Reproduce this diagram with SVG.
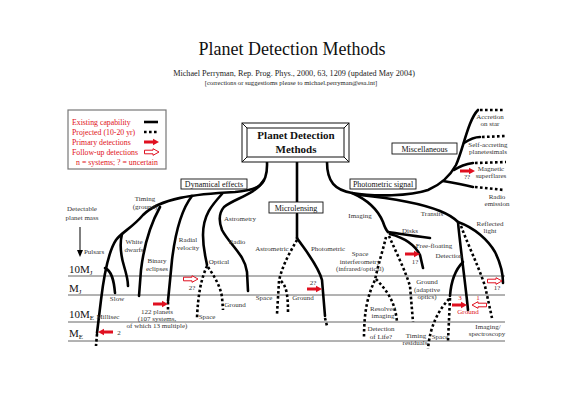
<svg xmlns="http://www.w3.org/2000/svg" xmlns:xlink="http://www.w3.org/1999/xlink" width="576" height="407" viewBox="0 0 576 407">
<style>
text{font-family:"Liberation Serif","Times New Roman",serif}
.l{font-size:7px;fill:#333;text-anchor:middle}
.r{font-size:7px;fill:#e01020;text-anchor:middle}
.lg{font-size:7.8px;fill:#e01020}
.b{font-size:8px;fill:#111;text-anchor:middle}
.m{font-size:11px;fill:#111}
.s{fill:none;stroke:#000;stroke-width:2.6;stroke-linecap:round}
.d{fill:none;stroke:#000;stroke-width:2.6;stroke-dasharray:2.6 2.4}
.h{stroke:#666;stroke-width:1}
.bx{fill:#fff;stroke:#111;stroke-width:0.9}
</style>
<defs>
<path id="ra" d="M0,-1.6 H9 V-3.2 L15,0 L9,3.2 V1.6 H0 Z" fill="#e01020"/>
<path id="ha" d="M0.5,-1.8 H9 V-3.3 L15,0 L9,3.3 V1.8 H0.5 Z" fill="#fff" stroke="#e01020" stroke-width="1"/>
</defs>
<rect width="576" height="407" fill="#fff"/>

<g id="title">
<text x="292" y="55" font-size="18" text-anchor="middle" fill="#111">Planet Detection Methods</text>
<text x="294" y="75.5" font-size="8.2" text-anchor="middle" fill="#222">Michael Perryman, Rep. Prog. Phys., 2000, 63, 1209 (updated May 2004)</text>
<text x="291" y="85" font-size="6.6" text-anchor="middle" fill="#222">[corrections or suggestioms please to michael.perryman@esa.int]</text>
</g>

<g id="legend">
<rect x="68" y="110" width="98" height="59" fill="#fff" stroke="#777" stroke-width="1.2"/>
<text class="lg" x="72" y="124.5">Existing capability</text>
<text class="lg" x="72" y="134.5">Projected (10-20 yr)</text>
<text class="lg" x="72" y="144.5">Primary detections</text>
<text class="lg" x="72" y="154.5">Follow-up detections</text>
<text class="lg" x="117" y="164.5" text-anchor="middle">n = systems; ? = uncertain</text>
<line x1="144" y1="122" x2="158" y2="122" stroke="#000" stroke-width="2.6"/>
<line x1="144" y1="132" x2="159" y2="132" class="d"/>
<use href="#ra" x="144" y="142"/>
<use href="#ha" x="144" y="152"/>
</g>

<g id="mass-axis">
<text class="l" x="82" y="211">Detectable</text>
<text class="l" x="82" y="219.5">planet mass</text>
<line x1="80" y1="227" x2="80" y2="252" stroke="#000" stroke-width="1"/>
<path d="M77,250 L80,257 L83,250 Z" fill="#000"/>
<line class="h" x1="68" y1="276" x2="505" y2="276"/>
<line class="h" x1="68" y1="295" x2="505" y2="295"/>
<line class="h" x1="68" y1="322" x2="505" y2="322"/>
<line class="h" x1="68" y1="341" x2="505" y2="341"/>
<text class="m" x="69" y="273">10M<tspan font-size="7" dy="2">J</tspan></text>
<text class="m" x="69" y="292">M<tspan font-size="7" dy="2">J</tspan></text>
<text class="m" x="69" y="318">10M<tspan font-size="7" dy="2">E</tspan></text>
<text class="m" x="69" y="337">M<tspan font-size="7" dy="2">E</tspan></text>
</g>

<g id="connectors">
<!-- dynamical -->
<path class="s" d="M267,162 C268,186 258,190 235,192 C195,194 160,198 143,215 C132,228 122,232 116,240 C108,252 104,275 101,300 L97,333"/>
<path class="d" d="M97,334 L96,346"/>
<path class="s" d="M122,234 C119,246 121,256 124,266 C127,276 128,282 128,286"/>
<path class="s" d="M105,268 C112,271 114,281 115,293"/>
<path class="s" d="M160,207 C150,225 144,245 141,270 L139,296"/>
<path class="s" d="M192,196 C181,210 175,235 172,260 L168,301"/>
<path class="d" d="M168,302 L168,310"/>
<path class="s" d="M264,180 C255,195 235,198 224,207 C218,214 219,222 222,230 C230,245 245,255 247,272 L248,291"/>
<path class="s" d="M222,194 C212,205 203,215 203,235 C203,250 206,258 207,265"/>
<path class="d" d="M207,266 C201,279 198,295 197,318"/>
<path class="d" d="M208,267 C214,276 220,285 222,297 L223,310"/>
<!-- microlensing -->
<path class="s" d="M297,162 L297,202"/>
<path class="s" d="M297,214 L297,238"/>
<path class="d" d="M297,240 C290,252 282,266 279,281 L277,314"/>
<path class="d" d="M281,281 C286,286 288,293 288,313"/>
<path class="s" d="M297,238 C305,250 318,265 322,280 L325,316"/>
<path class="d" d="M325,318 L327,326"/>
<!-- photometric + misc -->
<path class="s" d="M327,162 C327,182 335,190 352,193 C375,197 410,196 428,190 C442,184 450,176 456,165 C463,150 468,120 478,110"/>
<path class="d" d="M480,110 L504,110"/>
<path class="s" d="M464,143 C470,139 475,137 480,137"/>
<path class="d" d="M482,137 L506,136"/>
<path class="s" d="M454,170 C460,166 466,164 473,163"/>
<path class="d" d="M475,163 L506,162"/>
<path class="s" d="M443,181 C455,183 465,185 473,187"/>
<path class="d" d="M475,187 L504,190"/>
<!-- imaging -->
<path class="s" d="M352,193 C368,200 378,210 383,222 C385,228 386,230 388,232"/>
<path class="s" d="M388,232 C400,234 415,236 430,238"/>
<path class="s" d="M390,234 C405,238 415,245 420,255 L423,268"/>
<path class="d" d="M389,236 C396,252 405,270 410,286 L413,322"/>
<path class="d" d="M386,237 C383,250 378,265 375,280 C368,295 364,310 364,338"/>
<path class="d" d="M376,279 C386,290 395,300 397,322"/>
<!-- transits -->
<path class="s" d="M360,195 C390,198 420,203 440,211 C450,215 455,219 458,222 C475,228 488,240 495,252 C500,262 503,272 503,283"/>
<path class="s" d="M458,222 C460,245 465,280 468,310"/>
<path class="d" d="M461,226 C468,245 478,265 485,286 L492,318"/>
<path class="s" d="M463,262 C455,270 451,282 450,296"/>
<path class="d" d="M450,298 L448,341"/>
<path class="d" d="M449,299 C438,311 430,326 428,349"/>
</g>

<g id="arrows">
<use href="#ha" x="183" y="279"/>
<use href="#ra" transform="translate(113,332) scale(-1,1)"/>
<use href="#ra" x="153" y="304"/>
<use href="#ra" x="307" y="289"/>
<use href="#ra" x="460" y="171"/>
<use href="#ra" x="405" y="254"/>
<use href="#ha" x="487" y="281"/>
<use href="#ra" x="452" y="305"/>
<use href="#ha" transform="translate(487,305) scale(-1,1)"/>
</g>

<g id="main-box">
<rect x="242" y="123" width="107" height="39" fill="#fff" stroke="#111" stroke-width="1"/>
<rect x="247" y="128" width="97" height="29" fill="#fff" stroke="#111" stroke-width="1"/>
<path d="M242,123 L247,128 M349,123 L344,128 M242,162 L247,157 M349,162 L344,157" stroke="#111" stroke-width="1"/>
<text x="296" y="139" font-size="11" font-weight="bold" text-anchor="middle" fill="#111">Planet Detection</text>
<text x="296" y="152.5" font-size="11" font-weight="bold" text-anchor="middle" fill="#111">Methods</text>
</g>

<g id="dynamical">
<rect class="bx" x="181" y="179" width="66" height="10"/>
<text class="b" x="214" y="187">Dynamical effects</text>
</g>
<g id="microlensing">
<rect class="bx" x="269" y="202" width="54" height="11"/>
<text class="b" x="296" y="210.5">Microlensing</text>
</g>
<g id="photometric">
<rect class="bx" x="350" y="179" width="66" height="10"/>
<text class="b" x="383" y="187">Photometric signal</text>
</g>
<g id="miscellaneous">
<rect class="bx" x="392" y="143" width="65" height="11"/>
<text class="b" x="424.5" y="151.5">Miscellaneous</text>
</g>

<g id="labels">
<text class="l" x="145" y="201">Timing</text>
<text class="l" x="145" y="209">(ground)</text>
<text class="l" x="94" y="254">Pulsars</text>
<text class="l" x="134" y="244">White</text>
<text class="l" x="134" y="252">dwarfs</text>
<text class="l" x="157" y="263">Binary</text>
<text class="l" x="157" y="271">eclipses</text>
<text class="l" x="188" y="242">Radial</text>
<text class="l" x="188" y="250">velocity</text>
<text class="l" x="240" y="221">Astrometry</text>
<text class="l" x="237" y="244">Radio</text>
<text class="l" x="219" y="264">Optical</text>
<text class="l" x="117" y="301">Slow</text>
<text class="l" x="108" y="319">Millisec</text>
<text class="l" x="119" y="335">2</text>
<text class="l" x="192" y="290">2?</text>
<text class="l" x="157" y="314">122 planets</text>
<text class="l" x="157" y="321">(107 systems,</text>
<text class="l" x="157" y="328">of which 13 multiple)</text>
<text class="l" x="207" y="319">Space</text>
<text class="l" x="235" y="307">Ground</text>
<text class="l" x="272" y="251">Astrometric</text>
<text class="l" x="328" y="251">Photometric</text>
<text class="l" x="264" y="300">Space</text>
<text class="l" x="303" y="300">Ground</text>
<text class="l" x="313" y="285">2?</text>
<text class="l" x="360" y="218">Imaging</text>
<text class="l" x="360" y="256">Space</text>
<text class="l" x="360" y="263.5">interferometry</text>
<text class="l" x="360" y="271">(infrared/optical)</text>
<text class="l" x="410" y="233">Disks</text>
<text class="l" x="434" y="248">Free-floating</text>
<text class="l" x="415" y="264">1?</text>
<text class="l" x="449" y="258">Detection</text>
<text class="l" x="432" y="216">Transits</text>
<text class="l" x="490" y="226">Reflected</text>
<text class="l" x="490" y="233">light</text>
<text class="l" x="427" y="284">Ground</text>
<text class="l" x="427" y="291.5">(adaptive</text>
<text class="l" x="427" y="299">optics)</text>
<text class="l" x="383" y="311">Resolved</text>
<text class="l" x="383" y="317.5">imaging</text>
<text class="l" x="381" y="331">Detection</text>
<text class="l" x="381" y="339">of Life?</text>
<text class="l" x="416" y="338">Timing</text>
<text class="l" x="415" y="345">residuals</text>
<text class="l" x="440" y="339">Space</text>
<text class="l" x="488" y="329">Imaging/</text>
<text class="l" x="487" y="336">spectroscopy</text>
<text class="r" x="460" y="300">3</text>
<text class="r" x="478" y="300">1</text>
<text class="r" x="468" y="314">Ground</text>
<text class="l" x="497" y="290">1?</text>
<text class="l" x="490" y="118.5">Accretion</text>
<text class="l" x="490" y="126">on star</text>
<text class="l" x="488" y="146.5">Self-accreting</text>
<text class="l" x="488" y="154">planetesimals</text>
<text class="l" x="491" y="170.5">Magnetic</text>
<text class="l" x="491" y="178">superflares</text>
<text class="l" x="467" y="179">??</text>
<text class="l" x="497" y="198.5">Radio</text>
<text class="l" x="497" y="206">emission</text>
</g>
</svg>
